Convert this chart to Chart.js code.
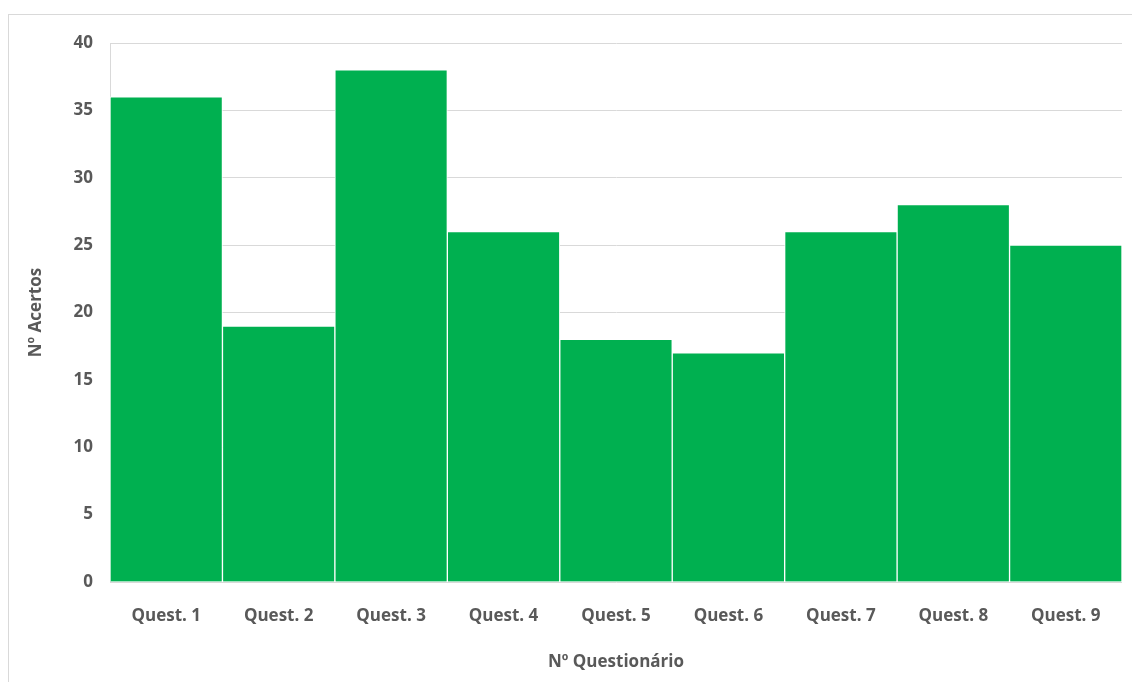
<!DOCTYPE html>
<html>
<head>
<meta charset="utf-8">
<script src="https://cdn.jsdelivr.net/npm/chart.js@4.4.0/dist/chart.umd.min.js"></script>
<style>
  html, body { margin: 0; padding: 0; background: #fff; overflow: hidden; }
  #frame { position: absolute; left: 8px; top: 14px; width: 1140px; height: 700px; border: 1px solid #d9d9d9; }
  #wrap { position: absolute; left: 0; top: 0; width: 1132px; height: 682px; }
</style>
</head>
<body>
<div id="frame"></div>
<div id="wrap"><canvas id="barChart"></canvas></div>
<script>
var labels = ["Quest. 1", "Quest. 2", "Quest. 3", "Quest. 4", "Quest. 5", "Quest. 6", "Quest. 7", "Quest. 8", "Quest. 9"];
var acertos = [36, 19, 38, 26, 18, 17, 26, 28, 25];
var yTicks = [0, 5, 10, 15, 20, 25, 30, 35, 40];

var textColor = '#595959';
var fontFamily = "'Open Sans', 'Noto Sans', sans-serif";

//bar
var ctxB = document.getElementById("barChart").getContext('2d');
var myBarChart = new Chart(ctxB, {
  type: 'bar',
  data: {
    labels: labels,
    datasets: [{
      label: "Nº Acertos",
      data: acertos,
      backgroundColor: '#00B050',
      borderColor: '#ffffff',
      borderWidth: 1,
      borderSkipped: 'bottom',
      barPercentage: 1,
      categoryPercentage: 1
    }]
  },
  options: {
    responsive: true,
    maintainAspectRatio: false,
    animation: false,
    layout: { padding: { left: 26, right: 10, top: 43, bottom: 10 } },
    plugins: {
      legend: { display: false },
      tooltip: { enabled: false }
    },
    scales: {
      x: {
        grid: { display: false, drawTicks: false },
        border: { display: false },
        ticks: {
          color: textColor,
          padding: 24,
          font: { family: fontFamily, size: 17, weight: 'bold' }
        },
        title: {
          display: true,
          text: "Nº Questionário",
          color: textColor,
          padding: { top: 10, bottom: 0 },
          font: { family: fontFamily, size: 17, weight: 'bold' }
        },
        afterFit: function (scale) { scale.height = 90; }
      },
      y: {
        min: 0,
        max: 40,
        afterBuildTicks: function (scale) {
          scale.ticks = yTicks.map(function (v) { return { value: v }; });
        },
        grid: { color: '#d9d9d9', lineWidth: 1, drawTicks: false },
        border: { display: true, color: '#d9d9d9' },
        ticks: {
          color: textColor,
          padding: 17,
          font: { family: fontFamily, size: 17, weight: 'bold' }
        },
        title: {
          display: true,
          text: "Nº Acertos",
          color: textColor,
          padding: { top: 0, bottom: 0 },
          font: { family: fontFamily, size: 17, weight: 'bold' }
        },
        afterFit: function (scale) { scale.width = 84; }
      }
    }
  }
});
</script>
</body>
</html>
